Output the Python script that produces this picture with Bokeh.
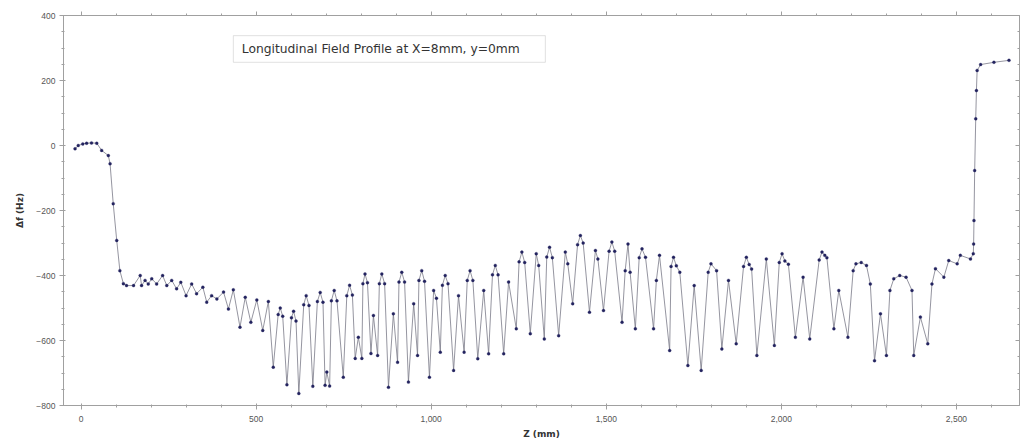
from bokeh.plotting import figure
from bokeh.models import (LinearAxis, NumeralTickFormatter, FixedTicker, Range1d,
                          BoxAnnotation, Label, ColumnDataSource, CustomLabelingPolicy)
from bokeh.embed import file_html
from bokeh.resources import INLINE

# ---- data (Z in mm, delta f in Hz) ----
z_mm = [-17, -8, 5, 16, 30, 45, 59, 78, 83, 92,
        102, 111, 121, 130, 150, 169, 173, 183, 192, 202,
        216, 233, 245, 259, 273, 285, 300, 316, 330, 348,
        359, 373, 388, 407, 421, 435, 454, 469, 485, 502,
        519, 535, 549, 563, 569, 576, 588, 601, 607, 614,
        622, 636, 643, 651, 662, 675, 683, 691, 697, 702,
        710, 715, 723, 731, 749, 759, 767, 775, 783, 792,
        802, 805, 811, 818, 828, 835, 847, 852, 859, 867,
        878, 892, 904, 908, 916, 924, 935, 950, 961, 965,
        973, 981, 995, 1007, 1015, 1026, 1032, 1040, 1048, 1064,
        1078, 1094, 1103, 1111, 1119, 1133, 1150, 1164, 1175, 1183,
        1191, 1207, 1221, 1243, 1251, 1259, 1267, 1283, 1300, 1307,
        1323, 1330, 1338, 1346, 1364, 1383, 1390, 1404, 1418, 1426,
        1434, 1452, 1469, 1476, 1492, 1508, 1516, 1524, 1545, 1554,
        1562, 1568, 1583, 1594, 1602, 1612, 1635, 1643, 1652, 1681,
        1685, 1692, 1700, 1710, 1733, 1751, 1771, 1791, 1799, 1815,
        1830, 1849, 1871, 1892, 1900, 1908, 1915, 1930, 1957, 1980,
        1994, 2002, 2010, 2020, 2040, 2062, 2081, 2108, 2116, 2124,
        2130, 2150, 2164, 2190, 2205, 2213, 2228, 2243, 2254, 2266,
        2283, 2300, 2310, 2321, 2338, 2356, 2373, 2378, 2397, 2418,
        2430, 2440, 2464, 2478, 2502, 2511, 2540, 2548, 2549, 2550,
        2552, 2555, 2557, 2559, 2569, 2607, 2650]
df_hz = [-10, 0, 5, 7, 8, 7, -15, -31, -56, -179,
         -292, -385, -425, -431, -431, -400, -431, -415, -426, -410,
         -426, -400, -431, -415, -441, -421, -462, -426, -456, -436,
         -482, -462, -472, -451, -503, -444, -559, -467, -544, -475,
         -569, -480, -682, -520, -500, -525, -736, -530, -510, -540,
         -763, -490, -462, -492, -741, -480, -452, -482, -738, -697,
         -740, -478, -446, -478, -713, -462, -430, -460, -655, -590,
         -655, -425, -395, -422, -640, -523, -646, -425, -395, -425,
         -744, -518, -667, -420, -390, -420, -728, -487, -646, -415,
         -385, -418, -713, -446, -470, -636, -430, -400, -425, -692,
         -462, -636, -415, -385, -415, -656, -446, -641, -398, -369,
         -398, -641, -420, -564, -358, -328, -360, -579, -333, -369,
         -595, -343, -313, -345, -585, -328, -364, -487, -305, -277,
         -300, -513, -323, -349, -508, -325, -297, -325, -544, -385,
         -303, -390, -564, -345, -318, -344, -564, -415, -338, -631,
         -372, -344, -370, -390, -677, -431, -692, -390, -364, -385,
         -626, -415, -610, -372, -344, -366, -380, -646, -349, -615,
         -360, -333, -355, -365, -590, -405, -595, -352, -328, -338,
         -345, -564, -446, -590, -385, -364, -360, -369, -426, -662,
         -518, -646, -446, -410, -400, -405, -446, -646, -528, -610,
         -426, -379, -405, -354, -364, -338, -349, -333, -303, -231,
         -77, 82, 169, 231, 249, 256, 262]
assert len(z_mm) == len(df_hz)

x_ticks = [0, 500, 1000, 1500, 2000, 2500]
y_ticks = [-800, -600, -400, -200, 0, 200, 400]
x_minor = list(range(0, 2700, 100))
y_minor = list(range(-800, 401, 50))
title_text = "Longitudinal Field Profile at X=8mm, y=0mm"
x_label = "Z (mm)"
y_label = "\u0394f (Hz)"

src = ColumnDataSource(data=dict(z=z_mm, df=df_hz))

p = figure(width=1022, height=447, output_backend="svg", toolbar_location=None,
           x_range=Range1d(-50, 2680), y_range=Range1d(-800, 400),
           min_border_left=63, min_border_right=3, min_border_top=15, min_border_bottom=42,
           background_fill_color="white", border_fill_color="white")
p.xgrid.visible = False
p.ygrid.visible = False
p.outline_line_color = "#a0a0a0"

AXC = "#a0a0a0"
for ax in p.xaxis:
    ax.ticker = FixedTicker(ticks=x_ticks, minor_ticks=x_minor)
    ax.formatter = NumeralTickFormatter(format="0,0")
for ax in p.yaxis:
    ax.ticker = FixedTicker(ticks=y_ticks, minor_ticks=y_minor)

for ax in list(p.xaxis) + list(p.yaxis):
    ax.axis_line_color = AXC
    ax.major_tick_line_color = AXC
    ax.minor_tick_line_color = AXC
    ax.major_tick_out = 4
    ax.major_tick_in = 2
    ax.minor_tick_out = 2
    ax.minor_tick_in = 1
    ax.major_label_text_font = "Liberation Sans"
    ax.major_label_text_font_size = "8.5px"
    ax.major_label_text_color = "#555555"
    ax.axis_label_text_font = "DejaVu Sans"
    ax.axis_label_text_font_style = "bold"
    ax.axis_label_text_font_size = "9px"
    ax.axis_label_text_color = "#333333"

p.xaxis.axis_label = x_label
p.yaxis.axis_label = y_label
p.xaxis.major_label_standoff = 6
p.xaxis.axis_label_standoff = 4
p.yaxis.major_label_standoff = 4
p.yaxis.axis_label_standoff = 8

no_labels = "try { for (const i of Array.from(indices)) { indices.unset(i) } } catch (e) {} return indices"

# frame ticks on top and right, without labels
top = LinearAxis(ticker=FixedTicker(ticks=x_ticks, minor_ticks=x_minor),
                 major_label_policy=CustomLabelingPolicy(code=no_labels),
                 major_label_text_font_size="0px", major_label_standoff=0,
                 axis_line_color=AXC, major_tick_line_color=AXC,
                 minor_tick_line_color=AXC, major_tick_out=4, major_tick_in=0,
                 minor_tick_out=2, minor_tick_in=0)
p.add_layout(top, "above")
right = LinearAxis(ticker=FixedTicker(ticks=y_ticks, minor_ticks=y_minor),
                   major_label_policy=CustomLabelingPolicy(code=no_labels),
                   major_label_text_font_size="0px", major_label_standoff=0,
                   axis_line_color=AXC, major_tick_line_color=AXC,
                   minor_tick_line_color=AXC, major_tick_out=0, major_tick_in=4,
                   minor_tick_out=0, minor_tick_in=2)
p.add_layout(right, "right")

p.line("z", "df", source=src, line_color="#7a7a88", line_width=0.8)
p.scatter("z", "df", source=src, size=3, marker="circle",
          fill_color="#23235f", line_color="#23235f", line_width=0.3)

box = BoxAnnotation(left=435, right=1326, bottom=256, top=338,
                    fill_color="white", fill_alpha=1.0,
                    line_color="#9a9a9a", line_width=1)
p.add_layout(box)
lab = Label(x=459, y=298, text=title_text, text_baseline="middle",
            text_font="DejaVu Sans", text_font_size="12.3px", text_color="#333333")
p.add_layout(lab)

open("out.html", "w").write(file_html(p, INLINE))
